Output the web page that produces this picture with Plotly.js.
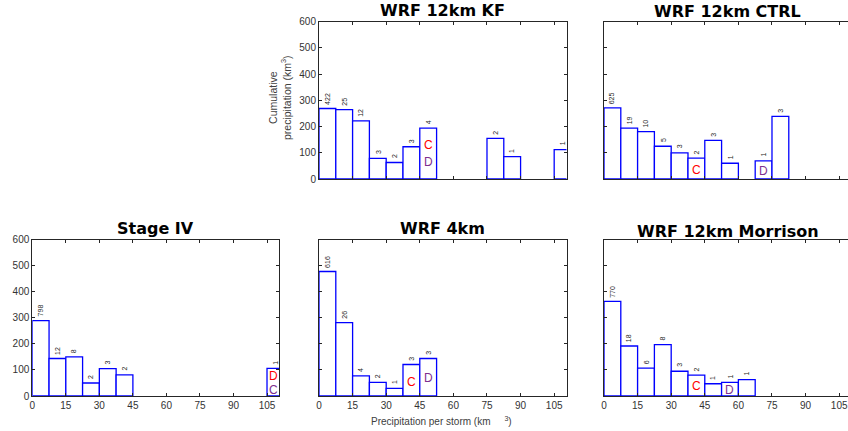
<!DOCTYPE html>
<html><head><meta charset="utf-8">
<script src="https://cdn.plot.ly/plotly-3.0.1.min.js"></script>
<style>html,body{margin:0;padding:0;overflow:hidden;background:#fff}#chart{width:860px;height:431px}</style>
</head><body><div id="chart"></div>
<script>
// ---- data ----
const binWidth = 7.5;
const xTicks = [0, 15, 30, 45, 60, 75, 90, 105];
const yTicks = [0, 100, 200, 300, 400, 500, 600];

const stageIVBins = [0, 1, 2, 3, 4, 5, 14];
const stageIVValues = [289, 144, 150, 50, 105, 81, 106];
const stageIVCounts = [798, 12, 8, 2, 3, 2, 1];
const stageIVLetters = ['D', 'C'];
const stageIVLetterX = [108, 108];
const stageIVLetterY = [78, 23];

const wrf4Bins = [0, 1, 2, 3, 4, 5, 6];
const wrf4Values = [478, 282, 77, 52, 29, 121, 144];
const wrf4Counts = [616, 26, 4, 2, 1, 3, 3];
const wrf4Letters = ['C', 'D'];
const wrf4LetterX = [41.25, 48.75];
const wrf4LetterY = [55, 68];

const morrBins = [0, 1, 2, 3, 4, 5, 6, 7, 8];
const morrValues = [363, 192, 107, 197, 95, 80, 47, 52, 63];
const morrCounts = [770, 18, 6, 8, 3, 2, 1, 1, 1];
const morrLetters = ['C', 'D'];
const morrLetterX = [41.25, 56.25];
const morrLetterY = [38, 23];

const kfBins = [0, 1, 2, 3, 4, 5, 6, 10, 11, 14];
const kfValues = [269, 265, 222, 79, 63, 123, 194, 155, 85, 112];
const kfCounts = [422, 25, 12, 3, 2, 3, 4, 2, 1, 1];
const kfLetters = ['C', 'D'];
const kfLetterX = [48.75, 48.75];
const kfLetterY = [130, 63];

const ctrlBins = [0, 1, 2, 3, 4, 5, 6, 7, 9, 10];
const ctrlValues = [271, 194, 181, 125, 100, 80, 147, 60, 69, 239];
const ctrlCounts = [625, 19, 10, 5, 3, 2, 3, 1, 1, 3];
const ctrlLetters = ['C', 'D'];
const ctrlLetterX = [41.25, 71.25];
const ctrlLetterY = [36, 32];

const titles = ['Stage IV', 'WRF 4km', 'WRF 12km Morrison', 'WRF 12km KF', 'WRF 12km CTRL'];
const yTitle = 'Cumulative<br>precipitation (km<sup>3</sup>)';
const xTitle = 'Precipitation per storm (km\u00a0\u00a0\u00a0\u00a0\u00a0<sup>3</sup>)';

// ---- layout / style ----
const W = 860, H = 431;
const RED = '#ff0000', PURPLE = '#7e2f8e';
const letterColorMap = {
  stage: {D: RED, C: PURPLE},
  other: {C: RED, D: PURPLE}
};
const FONT = 'Liberation Sans, Arial, Helvetica, sans-serif';
const TFONT = 'DejaVu Sans, Liberation Sans, Arial, sans-serif';
const AX = '#262626';

const panels = [
  {bins: stageIVBins, vals: stageIVValues, counts: stageIVCounts, L: stageIVLetters, LX: stageIVLetterX, LY: stageIVLetterY, cmap: letterColorMap.stage,
   px: [32.3, 279.3], py: [239.7, 396], showX: true, showY: true, titleShift: 0},
  {bins: wrf4Bins, vals: wrf4Values, counts: wrf4Counts, L: wrf4Letters, LX: wrf4LetterX, LY: wrf4LetterY, cmap: letterColorMap.other,
   px: [319, 566.5], py: [239.7, 396], showX: true, showY: false, titleShift: 0},
  {bins: morrBins, vals: morrValues, counts: morrCounts, L: morrLetters, LX: morrLetterX, LY: morrLetterY, cmap: letterColorMap.other,
   px: [604, 851.5], py: [239.7, 396], showX: true, showY: false, titleShift: -3},
  {bins: kfBins, vals: kfValues, counts: kfCounts, L: kfLetters, LX: kfLetterX, LY: kfLetterY, cmap: letterColorMap.other,
   px: [319, 566.5], py: [21.7, 179], showX: false, showY: true, titleShift: 0},
  {bins: ctrlBins, vals: ctrlValues, counts: ctrlCounts, L: ctrlLetters, LX: ctrlLetterX, LY: ctrlLetterY, cmap: letterColorMap.other,
   px: [604, 851.5], py: [21.7, 179], showX: false, showY: false, titleShift: -1}
];

const data = [];
const annotations = [];
const layout = {
  width: W, height: H,
  margin: {l: 0, r: 0, t: 0, b: 0},
  paper_bgcolor: '#fff', plot_bgcolor: '#fff',
  showlegend: false,
  font: {family: FONT, color: AX},
  hovermode: false
};

panels.forEach((p, i) => {
  const n = i + 1;
  const xa = 'x' + (n === 1 ? '' : n), ya = 'y' + (n === 1 ? '' : n);
  const xk = 'xaxis' + (n === 1 ? '' : n), yk = 'yaxis' + (n === 1 ? '' : n);
  data.push({
    type: 'bar', xaxis: xa, yaxis: ya,
    x: p.bins.map(b => (b + 0.5) * binWidth),
    y: p.vals,
    width: binWidth,
    marker: {color: '#ffffff', line: {color: '#0000ff', width: 1.3}},
    hoverinfo: 'skip'
  });
  const common = {
    showline: true, linecolor: AX, linewidth: 1, mirror: 'ticks',
    ticks: 'inside', ticklen: 3, tickcolor: AX, tickwidth: 1,
    showgrid: false, zeroline: false, fixedrange: true,
    tickfont: {family: FONT, size: 10, color: '#333333'}
  };
  layout[xk] = Object.assign({}, common, {
    domain: [p.px[0] / W, p.px[1] / W], anchor: ya,
    range: [0, 110.5], tickmode: 'array', tickvals: xTicks,
    showticklabels: p.showX
  });
  layout[yk] = Object.assign({}, common, {
    domain: [1 - p.py[1] / H, 1 - p.py[0] / H], anchor: xa,
    range: [0, 600], tickmode: 'array', tickvals: yTicks,
    showticklabels: p.showY
  });
  // title
  annotations.push({
    xref: xa + ' domain', yref: ya + ' domain', x: 0.5, y: 1,
    xanchor: 'center', yanchor: 'bottom', yshift: 0 + p.titleShift, showarrow: false,
    text: '<b>' + titles[i] + '</b>',
    font: {family: TFONT, size: 16, color: '#000'}
  });
  // counts
  p.bins.forEach((b, j) => {
    annotations.push({
      xref: xa, yref: ya, x: (b + 0.5) * binWidth, y: p.vals[j],
      xanchor: 'center', yanchor: 'bottom', yshift: 2, showarrow: false,
      textangle: -90, text: String(p.counts[j]),
      font: {family: FONT, size: 7, color: AX}
    });
  });
  // letters
  p.L.forEach((l, j) => {
    annotations.push({
      xref: xa, yref: ya, x: p.LX[j], y: p.LY[j],
      xanchor: 'center', yanchor: 'middle', showarrow: false,
      text: l, font: {family: FONT, size: 12, color: p.cmap[l]}
    });
  });
});

annotations.push({
  xref: 'paper', yref: 'paper', x: 280 / W, y: 1 - 98 / H,
  xanchor: 'center', yanchor: 'middle', showarrow: false, textangle: -90,
  text: yTitle, font: {family: FONT, size: 10.5, color: '#404040'}
});
annotations.push({
  xref: 'paper', yref: 'paper', x: 441 / W, y: 1 - 421 / H,
  xanchor: 'center', yanchor: 'middle', showarrow: false,
  text: xTitle, font: {family: FONT, size: 10, color: '#404040'}
});
layout.annotations = annotations;

Plotly.newPlot('chart', data, layout, {staticPlot: true, displayModeBar: false});
</script></body></html>
